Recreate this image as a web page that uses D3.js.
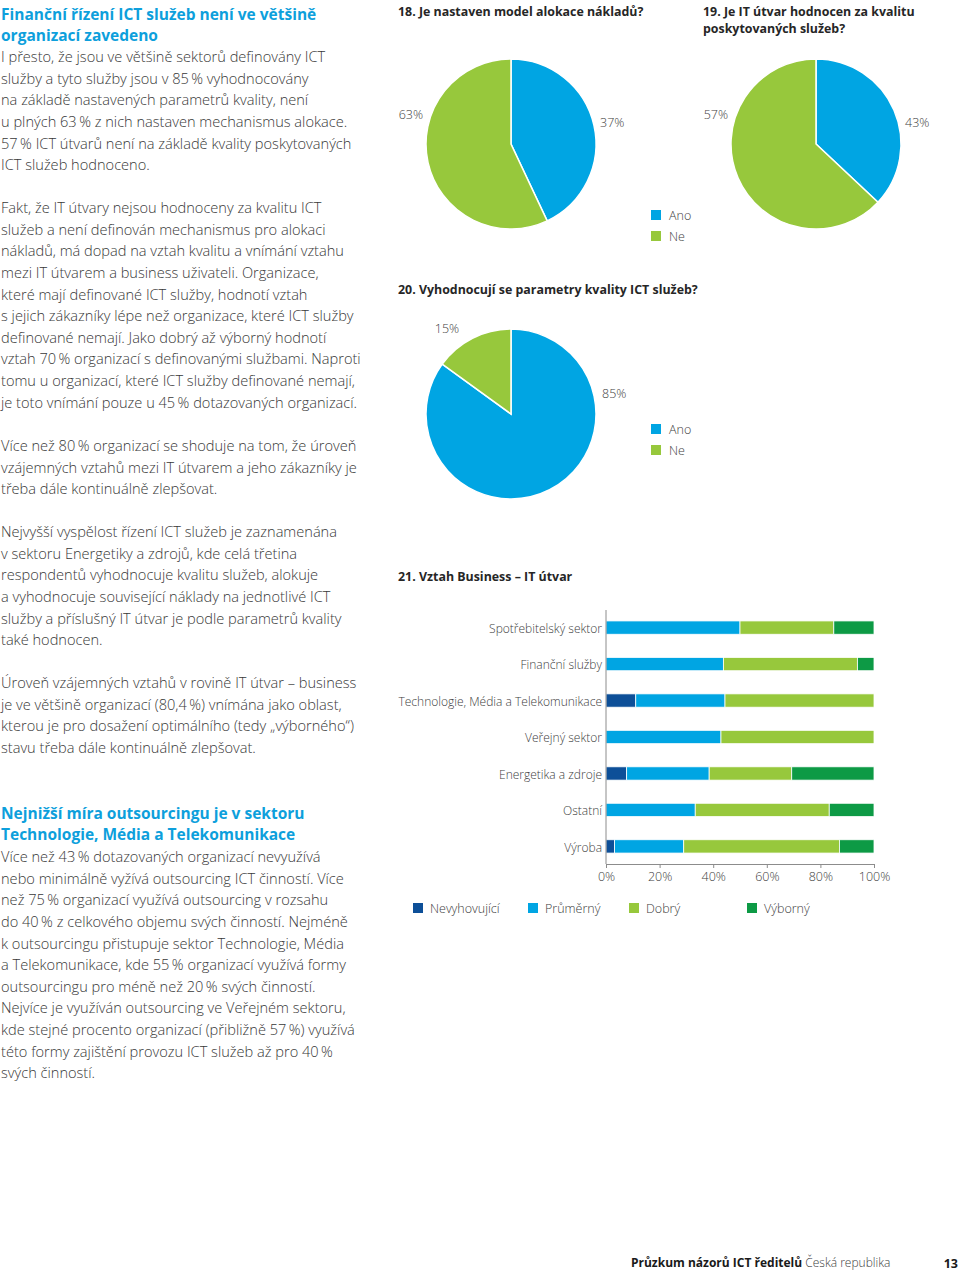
<!DOCTYPE html>
<html>
  <head>
    <meta http-equiv="Content-Type" content="text/html;charset=utf-8">
    <title>Vztah Business – IT útvar</title>
    <script src="https://cdn.jsdelivr.net/npm/d3@7/dist/d3.min.js"></script>
    <style type="text/css">
body {
    margin: 0;
    background: #fff;
}
svg text {
    font-family: "Open Sans", "Noto Sans", sans-serif;
}
.body-text {
    font-size: 14.6px;
    font-weight: 300;
    fill: #383838;
}
.head-text {
    font-size: 15.5px;
    font-weight: 700;
    fill: #0d9fdc;
}
.chart-title {
    font-size: 12.4px;
    font-weight: 700;
    fill: #262626;
}
.small {
    font-size: 12.5px;
    font-weight: 300;
    fill: #404040;
}
.cat {
    font-size: 12px;
}
.axis path, .axis line {
    stroke: #8c8c8c;
    stroke-width: 1px;
}
    </style>
  </head>
  <body>
    <script type="text/javascript">
// text of the left column
var head1 = ["Finanční řízení ICT služeb není ve většině",
             "organizací zavedeno"];
var para1 = ["I přesto, že jsou ve většině sektorů definovány ICT",
             "služby a tyto služby jsou v 85\u2009% vyhodnocovány",
             "na základě nastavených parametrů kvality, není",
             "u plných 63\u2009% z nich nastaven mechanismus alokace.",
             "57\u2009% ICT útvarů není na základě kvality poskytovaných",
             "ICT služeb hodnoceno."];
var para2 = ["Fakt, že IT útvary nejsou hodnoceny za kvalitu ICT",
             "služeb a není definován mechanismus pro alokaci",
             "nákladů, má dopad na vztah kvalitu a vnímání vztahu",
             "mezi IT útvarem a business uživateli. Organizace,",
             "které mají definované ICT služby, hodnotí vztah",
             "s jejich zákazníky lépe než organizace, které ICT služby",
             "definované nemají. Jako dobrý až výborný hodnotí",
             "vztah 70\u2009% organizací s definovanými službami. Naproti",
             "tomu u organizací, které ICT služby definované nemají,",
             "je toto vnímání pouze u 45\u2009% dotazovaných organizací."];
var para3 = ["Více než 80\u2009% organizací se shoduje na tom, že úroveň",
             "vzájemných vztahů mezi IT útvarem a jeho zákazníky je",
             "třeba dále kontinuálně zlepšovat."];
var para4 = ["Nejvyšší vyspělost řízení ICT služeb je zaznamenána",
             "v sektoru Energetiky a zdrojů, kde celá třetina",
             "respondentů vyhodnocuje kvalitu služeb, alokuje",
             "a vyhodnocuje související náklady na jednotlivé ICT",
             "služby a příslušný IT útvar je podle parametrů kvality",
             "také hodnocen."];
var para5 = ["Úroveň vzájemných vztahů v rovině IT útvar – business",
             "je ve většině organizací (80,4\u2009%) vnímána jako oblast,",
             "kterou je pro dosažení optimálního (tedy „výborného“)",
             "stavu třeba dále kontinuálně zlepšovat."];
var head2 = ["Nejnižší míra outsourcingu je v sektoru",
             "Technologie, Média a Telekomunikace"];
var para6 = ["Více než 43\u2009% dotazovaných organizací nevyužívá",
             "nebo minimálně vyžívá outsourcing ICT činností. Více",
             "než 75\u2009% organizací využívá outsourcing v rozsahu",
             "do 40\u2009% z celkového objemu svých činností. Nejméně",
             "k outsourcingu přistupuje sektor Technologie, Média",
             "a Telekomunikace, kde 55\u2009% organizací využívá formy",
             "outsourcingu pro méně než 20\u2009% svých činností.",
             "Nejvíce je využíván outsourcing ve Veřejném sektoru,",
             "kde stejné procento organizací (přibližně 57\u2009%) využívá",
             "této formy zajištění provozu ICT služeb až pro 40\u2009%",
             "svých činností."];

// pies: [Ano, Ne]. slices as drawn in the source (18 and 19 look swapped vs. their labels)
var pieKeys = ["Ano", "Ne"];
var pie18Values = [43, 57],
    pie18Labels = ["37%", "63%"];
var pie19Values = [37, 63],
    pie19Labels = ["43%", "57%"];
var pie20Values = [85, 15],
    pie20Labels = ["85%", "15%"];

// stacked bars, 21. Vztah Business – IT útvar
var sectors = ["Spotřebitelský sektor", "Finanční služby", "Technologie, Média a Telekomunikace",
               "Veřejný sektor", "Energetika a zdroje", "Ostatní", "Výroba"];
var levels = ["Nevyhovující", "Průměrný", "Dobrý", "Výborný"];
var nevyhovujici = [0, 0, 11.1, 0, 7.7, 0, 3.2],
    prumerny     = [50, 43.8, 33.3, 42.9, 30.8, 33.3, 25.8],
    dobry        = [35, 50, 55.6, 57.1, 30.8, 50, 58.1],
    vyborny      = [15, 6.2, 0, 0, 30.7, 16.7, 12.9];
var xTicks = [0, 20, 40, 60, 80, 100];

var colors = {
    navy: "#0d4f98",
    blue: "#00a5e3",
    lime: "#97c83c",
    green: "#0d9a45"
};

var W = 960, H = 1274, lh = 21.6;

var svg = d3.select('body').append('svg')
    .attr('width', W)
    .attr('height', H);

// ---- left column text
function block(lines, y0, cls) {
    svg.append('g').selectAll('text')
        .data(lines)
      .enter().append('text')
        .attr('class', cls)
        .attr('x', 1)
        .attr('y', function(d, i) { return y0 + i * lh })
        .attr('dy', '0.36em')
        .text(function(d) { return d });
}
block(head1, 14, 'head-text');
block(para1, 57, 'body-text');
block(para2, 208, 'body-text');
block(para3, 446, 'body-text');
block(para4, 532, 'body-text');
block(para5, 683, 'body-text');
block(head2, 813, 'head-text');
block(para6, 857, 'body-text');

// ---- pies
var pieColor = d3.scaleOrdinal().domain(pieKeys).range([colors.blue, colors.lime]);
var pie = d3.pie().sort(null),
    arc = d3.arc().innerRadius(0).outerRadius(85);

function drawPie(cx, cy, values, labels, labelPos) {
    var g = svg.append('g').attr('transform', 'translate(' + cx + ',' + cy + ')');
    g.selectAll('path')
        .data(pie(values))
      .enter().append('path')
        .attr('d', arc)
        .attr('fill', function(d, i) { return pieColor(pieKeys[i]) })
        .attr('stroke', '#fff')
        .attr('stroke-width', 1.5);
    g.selectAll('text')
        .data(labels)
      .enter().append('text')
        .attr('class', 'small')
        .attr('x', function(d, i) { return labelPos[i][0] })
        .attr('y', function(d, i) { return labelPos[i][1] })
        .attr('dy', '0.36em')
        .attr('text-anchor', function(d, i) { return labelPos[i][2] })
        .text(function(d) { return d });
}

function pieLegend(x, y) {
    var g = svg.append('g').attr('transform', 'translate(' + x + ',' + y + ')');
    var items = g.selectAll('g')
        .data(pieKeys)
      .enter().append('g')
        .attr('transform', function(d, i) { return 'translate(0,' + (i * 21) + ')' });
    items.append('rect')
        .attr('x', 0).attr('y', -5)
        .attr('width', 10).attr('height', 10)
        .attr('fill', function(d) { return pieColor(d) });
    items.append('text')
        .attr('class', 'small')
        .attr('x', 18)
        .attr('dy', '0.36em')
        .text(function(d) { return d });
}

function title(lines, x, y) {
    svg.append('g').selectAll('text')
        .data(lines)
      .enter().append('text')
        .attr('class', 'chart-title')
        .attr('x', x)
        .attr('y', function(d, i) { return y + i * 17 })
        .attr('dy', '0.36em')
        .text(function(d) { return d });
}

title(["18. Je nastaven model alokace nákladů?"], 398, 12);
title(["19. Je IT útvar hodnocen za kvalitu", "poskytovaných služeb?"], 703, 12);
title(["20. Vyhodnocují se parametry kvality ICT služeb?"], 398, 290);

drawPie(511, 144, pie18Values, pie18Labels, [[89, -22, 'start'], [-88, -30, 'end']]);
drawPie(816, 144, pie19Values, pie19Labels, [[89, -22, 'start'], [-88, -30, 'end']]);
drawPie(511, 414, pie20Values, pie20Labels, [[91, -21, 'start'], [-64, -86, 'middle']]);
pieLegend(651, 215);
pieLegend(651, 429);

// ---- stacked bar chart
title(["21. Vztah Business – IT útvar"], 398, 577);

var rows = sectors.map(function(s, i) {
    return { sector: s, "Nevyhovující": nevyhovujici[i], "Průměrný": prumerny[i],
             "Dobrý": dobry[i], "Výborný": vyborny[i] };
});
var stack = d3.stack().keys(levels)(rows);

var x = d3.scaleLinear().domain([0, 100]).range([606, 874]);
var y = d3.scaleBand().domain(sectors).range([610, 864]).paddingInner(0.635).paddingOuter(0.3);
var barColor = d3.scaleOrdinal().domain(levels)
    .range([colors.navy, colors.blue, colors.lime, colors.green]);

svg.append('g').selectAll('g')
    .data(stack)
  .enter().append('g')
    .attr('fill', function(d) { return barColor(d.key) })
  .selectAll('rect')
    .data(function(d) { return d })
  .enter().append('rect')
    .filter(function(d) { return d[1] - d[0] > 0 })
    .attr('x', function(d) { return x(d[0]) })
    .attr('width', function(d) { return x(d[1]) - x(d[0]) })
    .attr('y', function(d) { return y(d.data.sector) })
    .attr('height', y.bandwidth())
    .attr('stroke', '#fff')
    .attr('stroke-width', 0.8);

svg.append('g')
    .attr('class', 'axis')
    .attr('transform', 'translate(0,864)')
    .call(d3.axisBottom(x).tickValues(xTicks).tickSize(4).tickSizeOuter(0)
        .tickFormat(function(d) { return d + '%' }))
    .call(function(g) {
        g.selectAll('text').attr('class', 'small').attr('dy', '0.5em').attr('y', 11);
    });

svg.append('line')
    .attr('x1', x(0)).attr('x2', x(0))
    .attr('y1', 610).attr('y2', 864)
    .attr('stroke', '#8c8c8c');

svg.append('g').selectAll('text')
    .data(sectors)
  .enter().append('text')
    .attr('class', 'small cat')
    .attr('x', 602)
    .attr('y', function(d) { return y(d) + y.bandwidth() / 2 + 1 })
    .attr('dy', '0.36em')
    .attr('text-anchor', 'end')
    .text(function(d) { return d });

var legendX = [413, 528, 629, 747];
var lg = svg.append('g').selectAll('g')
    .data(levels)
  .enter().append('g')
    .attr('transform', function(d, i) { return 'translate(' + legendX[i] + ',908)' });
lg.append('rect')
    .attr('y', -5).attr('width', 10).attr('height', 10)
    .attr('fill', function(d) { return barColor(d) });
lg.append('text')
    .attr('class', 'small')
    .attr('x', 17)
    .attr('dy', '0.36em')
    .text(function(d) { return d });

// ---- footer
var foot = svg.append('text')
    .attr('x', 631).attr('y', 1263).attr('dy', '0.36em')
    .style('font-size', '12px').style('fill', '#1a1a1a');
foot.append('tspan').style('font-weight', 700).text('Průzkum názorů ICT ředitelů ');
foot.append('tspan').style('font-weight', 300).style('fill', '#404040').text('Česká republika');
svg.append('text')
    .attr('x', 958).attr('y', 1263).attr('dy', '0.36em')
    .attr('text-anchor', 'end')
    .style('font-size', '12.5px').style('font-weight', 700).style('fill', '#1a1a1a')
    .text('13');
    </script>
  </body>
</html>
